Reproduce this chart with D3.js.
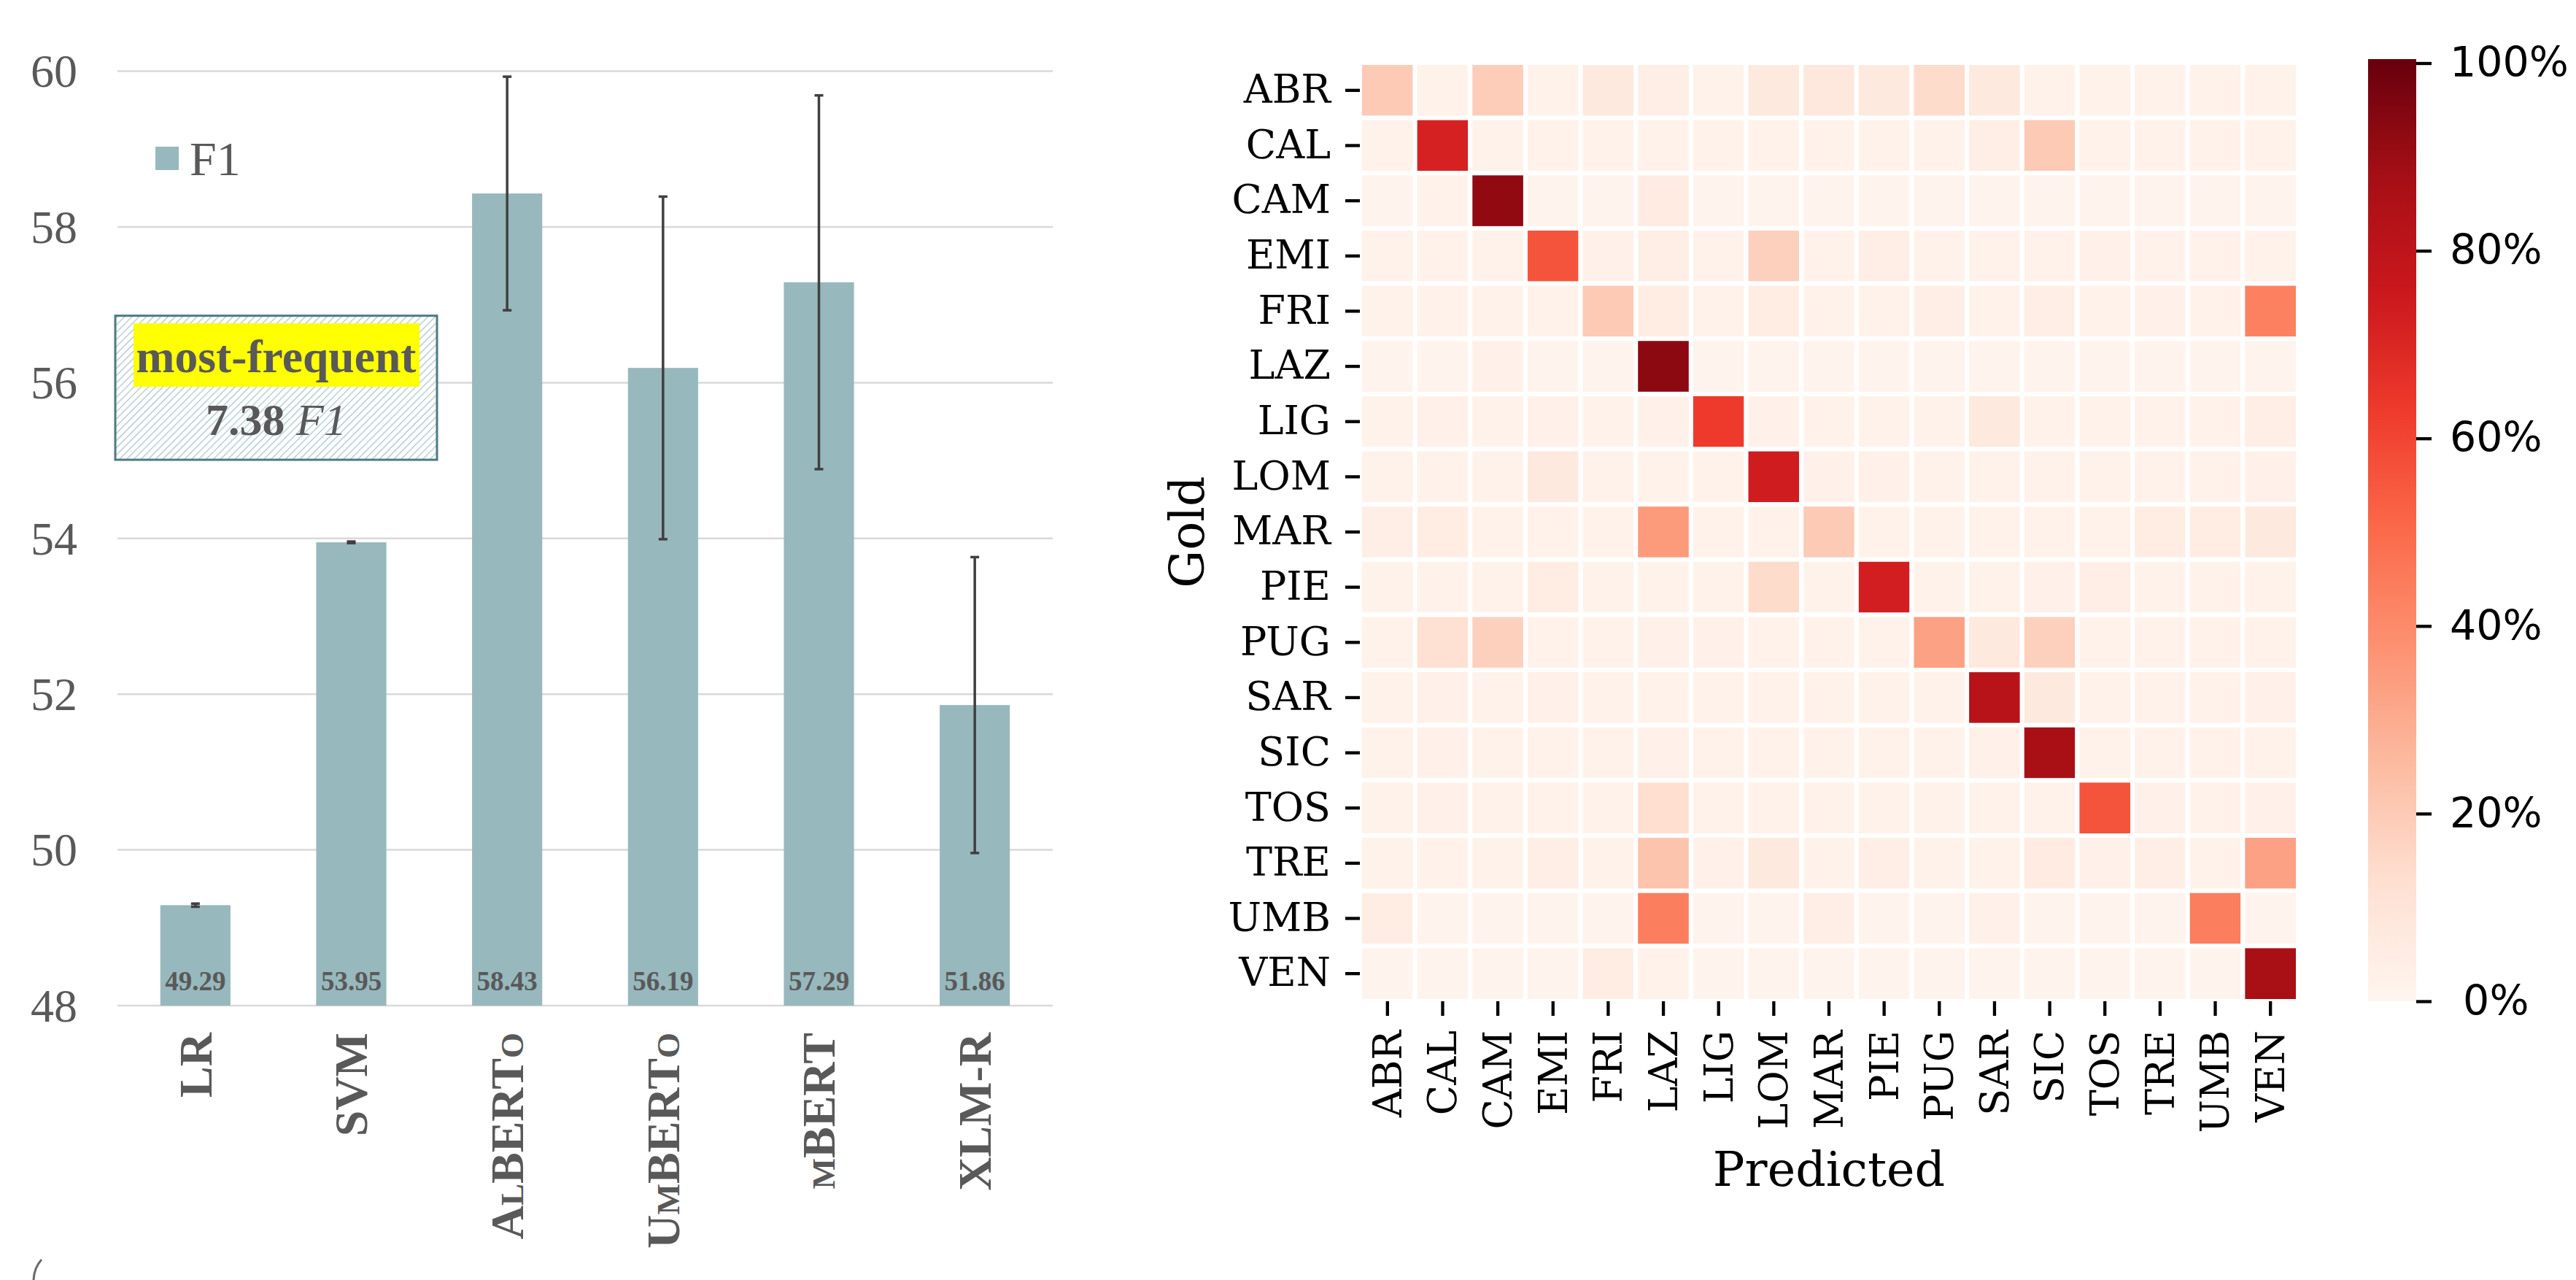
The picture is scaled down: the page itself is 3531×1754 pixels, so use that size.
<!DOCTYPE html>
<html>
<head>
<meta charset="utf-8">
<script src="https://cdn.jsdelivr.net/npm/d3@7"></script>
<style>
  html, body { margin: 0; padding: 0; background: #fff; }
  svg { display: block; }
  .serif { font-family: "Liberation Serif", "Times New Roman", serif; }
  .dserif { font-family: "DejaVu Serif", serif; }
  .dsans { font-family: "DejaVu Sans", sans-serif; }
</style>
</head>
<body>
<svg id="chart" width="3531" height="1754"></svg>
<script>
// ---------------- DATA ----------------
// Left panel: F1 by model
const methods = ["LR", "SVM", "AlBERTo", "UmBERTo", "mBERT", "XLM-R"];
const f1Values = [49.29, 53.95, 58.43, 56.19, 57.29, 51.86];
const f1Errors = [0.02, 0.01, 1.50, 2.20, 2.40, 1.90];
const f1Ticks = [48, 50, 52, 54, 56, 58, 60];
const legendLabel = "F1";
const baselineName = "most-frequent";
const baselineValue = "7.38";
const baselineMetric = "F1";

// Right panel: normalised confusion matrix (rows = gold, cols = predicted)
const regions = ["ABR","CAL","CAM","EMI","FRI","LAZ","LIG","LOM","MAR","PIE","PUG","SAR","SIC","TOS","TRE","UMB","VEN"];
const confusion = [
  // ABR  CAL  CAM  EMI  FRI  LAZ  LIG  LOM  MAR  PIE  PUG  SAR  SIC  TOS  TRE  UMB  VEN
  [0.20,0.02,0.19,0.02,0.07,0.04,0.02,0.07,0.08,0.07,0.14,0.07,0.02,0.02,0.02,0.02,0.02], // ABR
  [0.02,0.72,0.02,0.02,0.02,0.02,0.02,0.02,0.02,0.02,0.02,0.04,0.20,0.02,0.02,0.02,0.02], // CAL
  [0.01,0.02,0.92,0.01,0.01,0.06,0.01,0.01,0.01,0.01,0.01,0.01,0.01,0.01,0.01,0.01,0.01], // CAM
  [0.02,0.02,0.02,0.56,0.03,0.04,0.02,0.18,0.02,0.04,0.02,0.02,0.02,0.03,0.02,0.02,0.02], // EMI
  [0.02,0.02,0.02,0.02,0.20,0.05,0.02,0.05,0.02,0.02,0.04,0.02,0.04,0.02,0.03,0.02,0.43], // FRI
  [0.01,0.01,0.03,0.01,0.01,0.93,0.01,0.01,0.01,0.01,0.01,0.01,0.01,0.01,0.01,0.01,0.01], // LAZ
  [0.02,0.03,0.02,0.03,0.02,0.03,0.63,0.03,0.02,0.02,0.02,0.07,0.02,0.02,0.02,0.02,0.04], // LIG
  [0.02,0.02,0.02,0.07,0.02,0.02,0.02,0.74,0.03,0.03,0.02,0.02,0.02,0.02,0.02,0.02,0.03], // LOM
  [0.04,0.05,0.02,0.02,0.02,0.35,0.02,0.02,0.20,0.02,0.02,0.02,0.02,0.02,0.05,0.05,0.07], // MAR
  [0.02,0.02,0.02,0.05,0.02,0.02,0.02,0.14,0.02,0.73,0.02,0.02,0.03,0.04,0.02,0.02,0.02], // PIE
  [0.02,0.12,0.18,0.02,0.02,0.03,0.03,0.02,0.02,0.02,0.33,0.07,0.18,0.02,0.02,0.02,0.02], // PUG
  [0.02,0.03,0.02,0.03,0.02,0.02,0.02,0.02,0.02,0.02,0.02,0.82,0.07,0.02,0.02,0.02,0.03], // SAR
  [0.02,0.03,0.02,0.02,0.02,0.03,0.02,0.02,0.02,0.02,0.02,0.03,0.87,0.02,0.02,0.02,0.02], // SIC
  [0.02,0.03,0.02,0.02,0.02,0.13,0.02,0.02,0.02,0.02,0.02,0.02,0.02,0.56,0.03,0.02,0.03], // TOS
  [0.02,0.02,0.02,0.04,0.02,0.22,0.03,0.07,0.02,0.04,0.02,0.02,0.06,0.03,0.04,0.02,0.33], // TRE
  [0.05,0.01,0.01,0.01,0.01,0.44,0.01,0.01,0.04,0.01,0.01,0.03,0.01,0.01,0.01,0.44,0.01], // UMB
  [0.01,0.01,0.01,0.01,0.05,0.02,0.01,0.01,0.01,0.01,0.01,0.01,0.01,0.01,0.01,0.01,0.87]  // VEN
];
const colorbarTicks = [0, 0.2, 0.4, 0.6, 0.8, 1.0];
const colorbarLabels = [" 0%", "20%", "40%", "60%", "80%", "100%"];
const colorbarMax = 1.0043;
const redsStops = ["#fff5f0","#fee0d2","#fcbba1","#fc9272","#fb6a4a","#ef3b2c","#cb181d","#a50f15","#67000d"];
const axisTitles = { x: "Predicted", y: "Gold" };

// ---------------- LEFT PANEL ----------------
const svg = d3.select("#chart");
const grey = "#595959";
const barColor = "#97b8bd";

const L = { x0: 161, x1: 1443, yTop: 97.6, yBot: 1378 };
const x = d3.scaleBand().domain(methods).range([L.x0, L.x1]).paddingInner(0.55).paddingOuter(0.275);
const y = d3.scaleLinear().domain([48, 60]).range([L.yBot, L.yTop]);

const left = svg.append("g");

// gridlines
left.append("g").selectAll("line").data(f1Ticks).join("line")
  .attr("x1", L.x0).attr("x2", L.x1)
  .attr("y1", d => y(d)).attr("y2", d => y(d))
  .attr("stroke", "#d9d9d9").attr("stroke-width", 2.5);

// y tick labels
left.append("g").selectAll("text").data(f1Ticks).join("text")
  .attr("class", "serif")
  .attr("x", 106).attr("y", d => y(d)).attr("dy", "0.34em")
  .attr("text-anchor", "end").attr("font-size", 64).attr("fill", grey)
  .text(d => d);

// bars
left.append("g").selectAll("rect").data(methods).join("rect")
  .attr("x", d => x(d)).attr("width", x.bandwidth())
  .attr("y", (d, i) => y(f1Values[i]))
  .attr("height", (d, i) => y(48) - y(f1Values[i]))
  .attr("fill", barColor);

// error bars
const eb = left.append("g").attr("stroke", "#404040").attr("stroke-width", 3.5);
methods.forEach((m, i) => {
  const cx = x(m) + x.bandwidth() / 2;
  const lo = y(f1Values[i] - f1Errors[i]), hi = y(f1Values[i] + f1Errors[i]);
  eb.append("line").attr("x1", cx).attr("x2", cx).attr("y1", lo).attr("y2", hi);
  eb.append("line").attr("x1", cx - 6).attr("x2", cx + 6).attr("y1", lo).attr("y2", lo);
  eb.append("line").attr("x1", cx - 6).attr("x2", cx + 6).attr("y1", hi).attr("y2", hi);
});

// value labels inside bars
left.append("g").selectAll("text").data(methods).join("text")
  .attr("class", "serif")
  .attr("x", d => x(d) + x.bandwidth() / 2).attr("y", y(48) - 21)
  .attr("text-anchor", "middle").attr("font-size", 37).attr("font-weight", "bold").attr("fill", grey)
  .text((d, i) => f1Values[i].toFixed(2));

// category labels (rotated)
left.append("g").selectAll("text").data(methods).join("text")
  .attr("class", "serif")
  .attr("transform", d => `translate(${x(d) + x.bandwidth() / 2},${y(48) + 37}) rotate(-90)`)
  .attr("dy", "0.34em")
  .attr("text-anchor", "end").attr("font-size", 64).attr("font-weight", "bold").attr("fill", grey)
  .style("font-variant", "small-caps")
  .text(d => d);

// legend
const lg = left.append("g");
lg.append("rect").attr("x", 213).attr("y", 201).attr("width", 32).attr("height", 32).attr("fill", barColor);
lg.append("text").attr("class", "serif").attr("x", 260).attr("y", 217).attr("dy", "0.35em")
  .attr("font-size", 66).attr("fill", grey).text(legendLabel);

// baseline annotation box
const defs = svg.append("defs");
const pat = defs.append("pattern").attr("id", "hatch").attr("patternUnits", "userSpaceOnUse")
  .attr("width", 7).attr("height", 7).attr("patternTransform", "rotate(45)");
pat.append("rect").attr("width", 7).attr("height", 7).attr("fill", "#ffffff");
pat.append("line").attr("x1", 0).attr("y1", 0).attr("x2", 0).attr("y2", 7)
  .attr("stroke", "#a9c6cc").attr("stroke-width", 2.6);

const bx0 = 158, bx1 = 599, by0 = y(56.86), by1 = y(55.01);
const ann = left.append("g");
ann.append("rect").attr("x", bx0).attr("y", by0).attr("width", bx1 - bx0).attr("height", by1 - by0)
  .attr("fill", "url(#hatch)").attr("stroke", "#4f7a84").attr("stroke-width", 3);
const hl = ann.append("rect").attr("fill", "#ffff00");
ann.append("text").attr("class", "serif")
  .attr("x", (bx0 + bx1) / 2).attr("y", 510).attr("text-anchor", "middle")
  .attr("font-size", 63).attr("font-weight", "bold").attr("fill", grey)
  .attr("textLength", 384).attr("lengthAdjust", "spacingAndGlyphs")
  .text(baselineName);
hl.attr("x", 183).attr("y", 443).attr("width", 392).attr("height", 87);
const t2 = ann.append("text").attr("class", "serif")
  .attr("x", (bx0 + bx1) / 2).attr("y", 596).attr("text-anchor", "middle")
  .attr("font-size", 62).attr("fill", grey);
t2.append("tspan").attr("font-weight", "bold").text(baselineValue);
t2.append("tspan").attr("font-style", "italic").text(" " + baselineMetric);

// small bracket fragment at bottom-left
const br = d3.path();
br.moveTo(57, 1726);
br.quadraticCurveTo(46, 1738, 46, 1756);
left.append("path").attr("d", br.toString()).attr("fill", "none").attr("stroke", "#6a6a6a").attr("stroke-width", 3);

// ---------------- RIGHT PANEL ----------------
const H = { x0: 1864, x1: 3150, y0: 86, y1: 1372 };
const hx = d3.scaleBand().domain(regions).range([H.x0, H.x1]);
const hy = d3.scaleBand().domain(regions).range([H.y0, H.y1]);
const color = d3.scaleLinear()
  .domain(redsStops.map((c, i) => i / (redsStops.length - 1) * colorbarMax))
  .range(redsStops).interpolate(d3.interpolateRgb).clamp(true);

const cells = [];
confusion.forEach((row, r) => row.forEach((v, c) => cells.push({ gold: regions[r], pred: regions[c], v })));
const right = svg.append("g");
right.append("g").selectAll("rect").data(cells).join("rect")
  .attr("x", d => hx(d.pred)).attr("y", d => hy(d.gold))
  .attr("width", hx.bandwidth()).attr("height", hy.bandwidth())
  .attr("fill", d => color(d.v))
  .attr("stroke", "#ffffff").attr("stroke-width", 6);

// axes
const yAx = right.append("g").attr("transform", `translate(${H.x0},0)`)
  .call(d3.axisLeft(hy).tickSize(20).tickPadding(20));
const xAx = right.append("g").attr("transform", `translate(0,${H.y1})`)
  .call(d3.axisBottom(hx).tickSize(20).tickPadding(20));
[yAx, xAx].forEach(g => {
  g.select(".domain").remove();
  g.selectAll(".tick line").attr("stroke", "#000").attr("stroke-width", 4.3);
  g.selectAll(".tick text").attr("class", "dserif").attr("font-size", 54).attr("fill", "#000");
});
yAx.selectAll(".tick text").attr("font-family", "DejaVu Serif");
xAx.selectAll(".tick text")
  .attr("font-family", "DejaVu Serif")
  .attr("transform", "rotate(-90)")
  .attr("text-anchor", "end")
  .attr("x", -40).attr("y", 0).attr("dy", "0.35em");

right.append("text").attr("class", "dserif").attr("x", (H.x0 + H.x1) / 2).attr("y", 1625)
  .attr("text-anchor", "middle").attr("font-size", 65).attr("fill", "#000").text(axisTitles.x);
right.append("text").attr("class", "dserif")
  .attr("transform", `translate(1650,${(H.y0 + H.y1) / 2}) rotate(-90)`)
  .attr("text-anchor", "middle").attr("font-size", 65).attr("fill", "#000").text(axisTitles.y);

// colorbar
const cb = { x: 3246, w: 66 };
const cbY = d3.scaleLinear().domain([0, 1]).range([H.y1, 86.5]);
const grad = defs.append("linearGradient").attr("id", "cbgrad")
  .attr("x1", 0).attr("y1", 1).attr("x2", 0).attr("y2", 0);
d3.range(0, 1.0001, 0.02).forEach(t => {
  grad.append("stop").attr("offset", t).attr("stop-color", color(t * colorbarMax));
});
right.append("rect").attr("x", cb.x).attr("y", cbY(colorbarMax)).attr("width", cb.w)
  .attr("height", cbY(0) - cbY(colorbarMax)).attr("fill", "url(#cbgrad)");
const cbAx = right.append("g").attr("transform", `translate(${cb.x + cb.w},0)`)
  .call(d3.axisRight(cbY).tickValues(colorbarTicks).tickSize(21).tickPadding(25)
    .tickFormat((d, i) => colorbarLabels[i]));
cbAx.select(".domain").remove();
cbAx.selectAll(".tick line").attr("stroke", "#000").attr("stroke-width", 4.3);
cbAx.selectAll(".tick text").attr("font-family", "DejaVu Sans").attr("font-size", 57)
  .attr("fill", "#000").style("white-space", "pre");
</script>
</body>
</html>
